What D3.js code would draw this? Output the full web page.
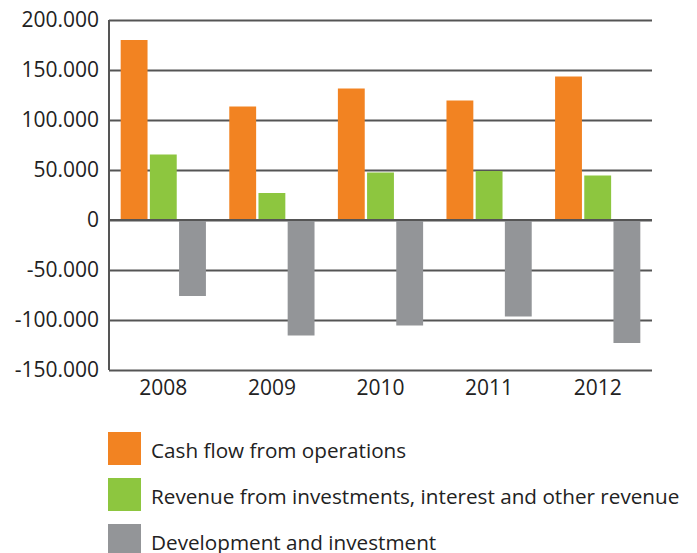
<!DOCTYPE html>
<html>
<head>
<meta charset="utf-8">
<script src="https://cdn.jsdelivr.net/npm/d3@7"></script>
<style>
  body { margin: 0; background: #fff; }
  text { font-family: "Open Sans", sans-serif; fill: #222; }
</style>
</head>
<body>
<script>
// chart data
var years = ["2008", "2009", "2010", "2011", "2012"];
var seriesNames = [
    "Cash flow from operations",
    "Revenue from investments, interest and other revenue",
    "Development and investment"
];
var cashFlow = [180000, 113500, 131500, 119500, 143500];
var revenue = [65500, 27000, 47500, 49000, 44500];
var development = [-76000, -115500, -105500, -96500, -123000];
var yTicks = [-150000, -100000, -50000, 0, 50000, 100000, 150000, 200000];
var colors = ["#f28322", "#8dc63f", "#939598"];

var margin = {top: 20, right: 45, bottom: 183, left: 109},
    width = 697 - margin.left - margin.right,
    height = 553 - margin.top - margin.bottom;

var svg = d3.select("body").append("svg")
    .attr("width", 697)
    .attr("height", 553);

var g = svg.append("g")
    .attr("transform", "translate(" + margin.left + "," + margin.top + ")");

var locale = d3.formatLocale({decimal: ",", thousands: ".", grouping: [3], currency: ["", ""], minus: "-"});
var fmt = locale.format(",");

var x0 = d3.scaleBand().domain(years).range([0, width]);
var x1 = d3.scaleBand().domain(d3.range(3)).range([0, x0.bandwidth()])
    .paddingInner(0.08).paddingOuter(0.4);
var y = d3.scaleLinear().domain([-150000, 200000]).range([height, 0]);

// gridlines + tick labels
var yAxis = d3.axisLeft(y).tickValues(yTicks).tickFormat(fmt)
    .tickSize(-width).tickPadding(10);
var gy = g.append("g").call(yAxis);
gy.select(".domain").remove();
gy.selectAll("line").attr("stroke", "#555").attr("stroke-width", 2);
gy.selectAll("text").attr("font-size", "21px").attr("fill", "#222")
    .attr("font-family", "Open Sans, sans-serif");

// bars
var table = years.map(function(yr, i) {
    return {year: yr, values: [cashFlow[i], revenue[i], development[i]]};
});

var groups = g.selectAll(".year")
    .data(table)
    .enter().append("g")
    .attr("transform", function(d) { return "translate(" + x0(d.year) + ",0)"; });

groups.selectAll("rect")
    .data(function(d) { return d.values.map(function(v, k) { return {k: k, v: v}; }); })
    .enter().append("rect")
    .attr("x", function(d) { return x1(d.k); })
    .attr("width", x1.bandwidth())
    .attr("y", function(d) { return y(Math.max(0, d.v)); })
    .attr("height", function(d) { return Math.abs(y(d.v) - y(0)); })
    .attr("fill", function(d) { return colors[d.k]; });

// zero line on top of bars
g.append("line")
    .attr("x1", 0).attr("x2", width)
    .attr("y1", y(0)).attr("y2", y(0))
    .attr("stroke", "#555").attr("stroke-width", 2);

// left axis line
g.append("line")
    .attr("x1", 0).attr("x2", 0)
    .attr("y1", 0).attr("y2", height)
    .attr("stroke", "#555").attr("stroke-width", 2);

// year labels
var gx = g.append("g")
    .attr("transform", "translate(0," + height + ")")
    .call(d3.axisBottom(x0).tickSize(0).tickPadding(10));
gx.select(".domain").remove();
gx.selectAll("text").attr("font-size", "21px").attr("fill", "#222")
    .attr("font-family", "Open Sans, sans-serif");

// legend
var legend = svg.selectAll(".legend")
    .data(seriesNames)
    .enter().append("g")
    .attr("transform", function(d, i) { return "translate(108," + (432 + i * 46) + ")"; });

legend.append("rect")
    .attr("width", 33).attr("height", 33)
    .attr("fill", function(d, i) { return colors[i]; });

legend.append("text")
    .attr("x", 43).attr("y", 26)
    .attr("font-size", "20.7px")
    .text(function(d) { return d; });
</script>
</body>
</html>
